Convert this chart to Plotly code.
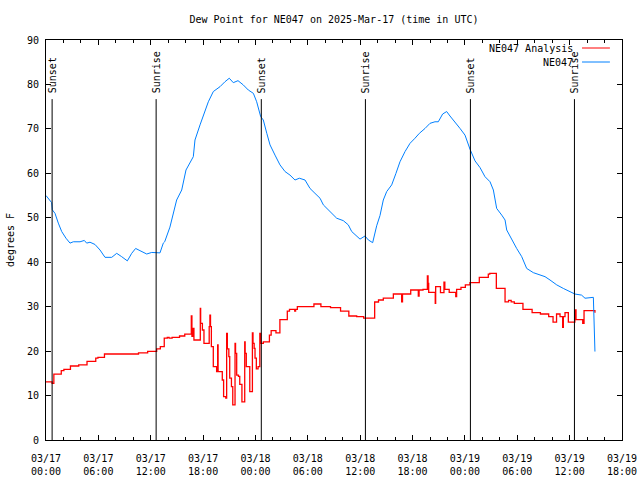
import plotly.graph_objects as go

# ---- data (hours since 2025-03-17 00:00 UTC) ----
obs_hours = [0.0, 0.3, 0.65, 0.72, 1.03, 1.41, 1.8, 2.29, 2.75, 3.13, 3.9, 4.39, 4.66, 5.04, 5.61,
             6.19, 6.76, 7.53, 8.1, 8.67, 9.32, 9.82, 10.27, 10.77, 11.54, 12.11, 12.87, 13.06,
             13.44, 13.6, 14.2, 14.4, 14.97, 15.55, 16.04, 16.88, 17.07, 17.65, 18.1, 18.6, 19.17,
             19.94, 20.5, 21.0, 21.46, 22.0, 22.6, 23.18, 23.76, 24.14, 24.6, 24.9, 25.3, 25.67,
             26.24, 26.81, 27.39, 27.96, 28.53, 29.03, 29.68, 30.25, 30.82, 31.4, 31.78, 32.54,
             33.31, 34.07, 34.64, 35.03, 35.6, 35.98, 36.55, 36.94, 37.43, 37.89, 38.27, 38.65,
             39.04, 39.61, 40.1, 40.56, 41.14, 41.71, 42.28, 42.78, 43.43, 44.0, 44.57, 44.95,
             45.45, 45.91, 46.29, 46.87, 47.44, 48.01, 48.59, 49.16, 49.73, 50.3, 50.88, 51.26,
             51.64, 52.22, 52.6, 52.79, 53.36, 53.93, 54.51, 55.08, 55.84, 56.41, 57.18, 57.75,
             58.52, 59.28, 60.04, 60.6, 61.37, 61.76, 62.72, 62.83, 62.9]
obs_values = [55.0, 54.2, 53.4, 51.8, 51.0, 48.8, 46.9, 45.4, 44.3, 44.6, 44.6, 44.9, 44.3, 44.5, 44.0,
              42.75, 41.1, 41.1, 42.0, 41.25, 40.3, 42.0, 43.1, 42.6, 41.85, 42.2, 42.0, 42.1,
              44.3, 44.6, 47.9, 49.5, 54.0, 56.25, 60.75, 63.75, 67.5, 70.9, 73.5, 76.1, 78.4,
              79.5, 80.6, 81.4, 80.4, 80.85, 79.9, 78.75, 78.0, 76.1, 72.75, 72.0, 69.0, 66.4,
              64.1, 61.9, 60.4, 59.6, 58.5, 58.9, 58.5, 56.6, 55.5, 54.4, 52.9, 51.4,
              49.9, 49.35, 48.4, 46.9, 45.75, 45.2, 45.9, 45.0, 44.4, 48.2, 50.5, 54.0,
              55.9, 57.4, 60.0, 62.6, 64.9, 66.75, 67.9, 69.0, 70.1, 71.25, 71.6, 71.6,
              73.35, 73.9, 72.9, 71.6, 70.1, 68.6, 65.4, 62.8, 61.3, 59.25, 58.1, 56.25,
              52.1, 50.6, 49.5, 47.25, 45.0, 43.1, 41.25, 38.6, 37.65, 37.3, 36.75, 36.0,
              34.9, 34.1, 33.4, 32.85, 32.6, 31.9, 32.1, 26.25, 19.9]

ana_hours = [0.0, 0.7, 0.9, 1.75, 2.05, 2.8, 3.75, 4.7, 5.7, 5.95, 6.7, 10.6, 11.65, 12.68, 13.1,
             13.55, 13.9, 14.1, 14.45, 15.3, 15.9, 16.65, 16.72, 16.85, 16.95, 17.68, 17.72, 17.92,
             18.1, 18.7, 18.78, 18.85, 18.95, 19.17, 19.55, 19.67, 19.72, 20.2, 20.35, 20.6, 20.7,
             20.78, 20.95, 21.05, 21.25, 21.4, 21.66, 21.72, 21.85, 22.05, 22.2, 22.45, 22.77,
             22.82, 22.95, 23.35, 23.65, 23.72, 23.85, 23.95, 24.1, 24.3, 24.5, 24.6, 24.9, 25.6,
             25.8, 26.35, 26.8, 27.65, 27.9, 28.5, 28.6, 28.8, 30.7, 31.5, 32.6, 33.75, 34.7,
             35.6, 36.4, 37.66, 38.1, 38.65, 39.8, 40.75, 40.85, 41.79, 42.66, 42.75, 43.2, 43.7,
             43.78, 43.85, 44.6, 44.65, 45.2, 45.6, 45.7, 46.2, 46.95, 47.05, 47.55, 48.05, 48.58,
             49.65, 50.68, 50.85, 51.6, 52.6, 53.0, 53.3, 53.66, 54.65, 55.7, 56.65, 57.6, 58.1,
             58.5, 58.9, 59.2, 59.28, 59.47, 59.85, 60.6, 60.73, 61.5, 61.65, 62.9]
ana_values = [13.1, 12.75, 14.8, 15.6, 15.9, 16.65, 16.9, 17.7, 18.4, 18.6, 19.35, 19.6, 19.95, 20.5, 21.0,
              22.9, 23.1, 22.9, 23.1, 23.4, 23.8, 27.9, 23.3, 25.1, 22.5, 29.6, 26.25, 24.75,
              21.75, 25.5, 28.1, 25.5, 21.0, 16.5, 15.4, 21.4, 15.4, 13.5, 9.75, 9.4, 24.0,
              20.5, 18.75, 13.9, 12.0, 7.9, 21.75, 19.5, 14.6, 14.3, 12.5, 8.6, 22.1,
              19.5, 16.5, 10.9, 24.1, 21.75, 20.6, 18.4, 16.0, 16.5, 24.0, 21.75, 22.1, 23.6,
              24.6, 24.1, 27.1, 29.0, 29.4, 29.0, 29.4, 30.0, 30.6, 30.0, 29.8, 29.0, 27.9,
              27.75, 27.4, 31.05, 31.5, 31.9, 32.85, 31.1, 32.85, 33.75, 32.4, 33.75, 33.9, 36.9,
              35.25, 33.2, 30.75, 34.5, 33.15, 35.5, 33.9, 33.2, 32.25, 33.9, 34.35, 34.9, 35.4,
              36.6, 37.3, 37.5, 34.1, 31.1, 31.4, 31.1, 30.75, 29.4, 28.65, 28.35, 27.75, 26.5,
              28.35, 27.75, 25.35, 27.75, 28.65, 26.5, 29.25, 27.1, 26.25, 29.1, 28.65]

sun_hours = [0.7, 12.62, 24.67, 36.6, 48.63, 60.55]
sun_labels = ["Sunset", "Sunrise", "Sunset", "Sunrise", "Sunset", "Sunrise"]

x_tick_vals = [0, 6, 12, 18, 24, 30, 36, 42, 48, 54, 60, 66]
x_tick_text = ["03/17<br>00:00", "03/17<br>06:00", "03/17<br>12:00", "03/17<br>18:00",
               "03/18<br>00:00", "03/18<br>06:00", "03/18<br>12:00", "03/18<br>18:00",
               "03/19<br>00:00", "03/19<br>06:00", "03/19<br>12:00", "03/19<br>18:00"]

series_names = ["NE047 Analysis", "NE047"]
series_colors = ["#ff0000", "#0080ff"]

FONT = "DejaVu Sans Mono"
FIG_W, FIG_H = 640, 480

fig = go.Figure()
fig.add_trace(go.Scatter(x=ana_hours, y=ana_values, mode="lines", line_shape="hv",
                         name=series_names[0], line=dict(color=series_colors[0], width=1.3),
                         showlegend=False))
fig.add_trace(go.Scatter(x=obs_hours, y=obs_values, mode="lines",
                         name=series_names[1], line=dict(color=series_colors[1], width=1),
                         showlegend=False))

for t, lab in zip(sun_hours, sun_labels):
    fig.add_shape(type="line", xref="x", yref="y", x0=t, x1=t, y0=0, y1=76.7,
                  line=dict(color="black", width=1))
    fig.add_annotation(x=t, y=77.6, xref="x", yref="y", text=lab, textangle=-90,
                       showarrow=False, xanchor="center", yanchor="bottom",
                       font=dict(family=FONT, size=10, color="black"))

# gnuplot-style legend (text left, sample line right)
for i, (nm, col) in enumerate(zip(series_names, series_colors)):
    yp = 0.98 - i * 0.035
    fig.add_annotation(x=0.918, y=yp, xref="paper", yref="paper", text=nm, showarrow=False,
                       xanchor="right", yanchor="middle",
                       font=dict(family=FONT, size=10, color="black"))
    fig.add_shape(type="line", xref="paper", yref="paper", x0=0.9306, x1=0.979, y0=yp, y1=yp,
                  line=dict(color=col, width=1))

fig.update_layout(
    width=FIG_W, height=FIG_H,
    margin=dict(l=46, r=18, t=40, b=40, autoexpand=False),
    paper_bgcolor="white", plot_bgcolor="white",
    font=dict(family=FONT, size=10, color="black"),
    title=dict(text="Dew Point for NE047 on 2025-Mar-17 (time in UTC)", x=0.5, xref="paper",
               y=1 - 19 / FIG_H, yanchor="middle", font=dict(family=FONT, size=10)),
)
fig.update_xaxes(range=[0, 66], tickmode="array", tickvals=x_tick_vals, ticktext=x_tick_text,
                 ticks="inside", ticklen=5, tickcolor="black", showline=True, linecolor="black",
                 linewidth=1, mirror="ticks", showgrid=False, zeroline=False, automargin=False,
                 ticklabelstandoff=9,
                 minor=dict(tickmode="linear", tick0=0, dtick=2, ticks="inside", ticklen=3,
                            tickcolor="black", showgrid=False))
fig.update_yaxes(range=[0, 90], dtick=10, ticks="inside", ticklen=5, tickcolor="black",
                 showline=True, linecolor="black", linewidth=1, mirror="ticks", automargin=False,
                 showgrid=False, zeroline=False, ticklabelstandoff=4,
                 title=dict(text="degrees F", standoff=10, font=dict(family=FONT, size=10)))

fig.write_html("out.html", config={"displayModeBar": False},
               post_script="document.body.style.margin='0';document.body.style.overflow='hidden';")
